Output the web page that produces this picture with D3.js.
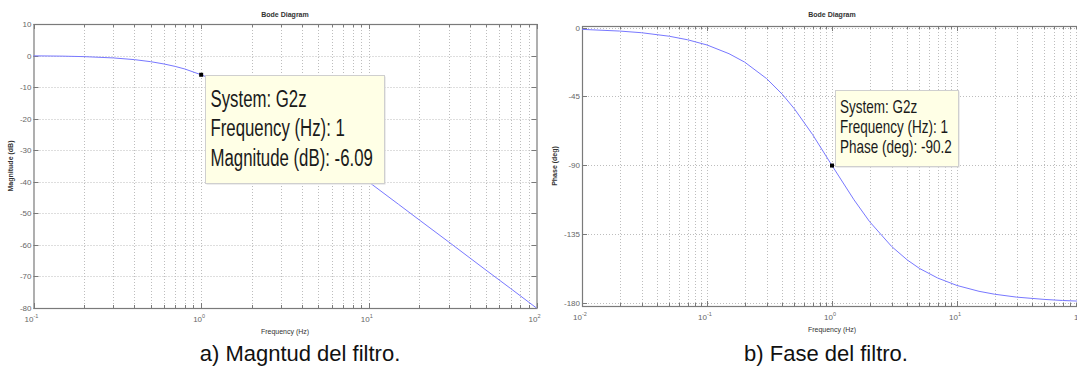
<!DOCTYPE html>
<html>
<head>
<meta charset="utf-8">
<script src="https://cdn.jsdelivr.net/npm/d3@7"></script>
<style>
  html, body { margin: 0; padding: 0; background: #fff; }
  svg { display: block; font-family: "Liberation Sans", Arial, sans-serif; }
</style>
</head>
<body>
<svg id="chart" width="1077" height="368"></svg>
<script>
// Magnitude response (dB) of G2z against frequency (Hz)
const magFreq = [0.1, 0.15, 0.2, 0.3, 0.4, 0.5, 0.6, 0.7, 0.8, 1, 1.2, 1.5, 2, 2.5, 3, 4, 5, 7, 10, 15, 20, 30, 50, 70, 100];
const magDb   = [-0.09, -0.19, -0.34, -0.75, -1.29, -1.94, -2.67, -3.44, -4.27, -6.09, -7.8, -10.3, -14.0, -17.2, -20.0, -24.6, -28.3, -34.0, -40.1, -47.1, -52.1, -59.1, -68.0, -73.8, -80.0];

// Phase response (deg) of G2z against frequency (Hz)
const phaseFreq = [0.01, 0.02, 0.03, 0.05, 0.07, 0.1, 0.15, 0.2, 0.3, 0.4, 0.5, 0.7, 1, 1.5, 2, 3, 4, 5, 7, 10, 15, 20, 30, 50, 70, 100];
const phaseDeg  = [-1.2, -2.3, -3.4, -5.7, -8.0, -11.4, -17.1, -22.6, -33.4, -43.6, -53.1, -70.0, -90.2, -112.6, -126.9, -143.1, -151.9, -157.4, -163.7, -168.6, -172.4, -174.3, -176.2, -177.7, -178.4, -178.9];

// Axis ticks
const magTicks   = [10, 0, -10, -20, -30, -40, -50, -60, -70, -80];
const phaseTicks = [0, -45, -90, -135, -180];
const magDecades   = [-1, 0, 1, 2];
const phaseDecades = [-2, -1, 0, 1, 2];

// Data tips
const magTip   = { f: 1, v: -6.09, lines: ["System: G2z", "Frequency (Hz): 1", "Magnitude (dB): -6.09"] };
const phaseTip = { f: 1, v: -90.2, lines: ["System: G2z", "Frequency (Hz): 1", "Phase (deg): -90.2"] };

const captions = ["a) Magntud del filtro.", "b) Fase del filtro."];

const svg = d3.select("#chart");
svg.append("rect").attr("width", 1077).attr("height", 368).attr("fill", "#fff");

function panel(cfg) {
  const g = svg.append("g");
  const x = d3.scaleLog().domain(cfg.xDomain).range([cfg.left, cfg.right]);
  const y = d3.scaleLinear().domain(cfg.yDomain).range([cfg.bottom, cfg.top]);

  // major and minor frequency positions within the axis range
  const lo = Math.floor(Math.log10(cfg.xDomain[0])), hi = Math.ceil(Math.log10(cfg.xDomain[1]));
  const freqs = [];
  for (let e = lo; e < hi; e++) for (let m = 1; m <= 9; m++) freqs.push({ f: m * Math.pow(10, e), major: m === 1 });
  freqs.push({ f: Math.pow(10, hi), major: true });
  const inside = freqs.filter(d => d.f >= cfg.xDomain[0] * 0.999 && d.f <= cfg.xDomain[1] * 1.001);

  // dotted grid
  g.append("g").selectAll("line").data(inside.filter(d => x(d.f) > cfg.left + 1 && x(d.f) < cfg.right - 1)).join("line")
    .attr("x1", d => Math.round(x(d.f)) + 0.5).attr("x2", d => Math.round(x(d.f)) + 0.5)
    .attr("y1", cfg.top).attr("y2", cfg.bottom)
    .attr("stroke", "#bdbdbd").attr("stroke-width", 1).attr("stroke-dasharray", "1,2");
  g.append("g").selectAll("line").data(cfg.yTicks.filter(v => y(v) > cfg.top + 1 && y(v) < cfg.bottom - 1)).join("line")
    .attr("x1", cfg.left).attr("x2", cfg.right)
    .attr("y1", d => Math.round(y(d)) + 0.5).attr("y2", d => Math.round(y(d)) + 0.5)
    .attr("stroke", "#bdbdbd").attr("stroke-width", 1).attr("stroke-dasharray", "1,2");

  // inward tick marks on all four sides
  const tk = g.append("g").attr("stroke", "#7a7a7a").attr("stroke-width", 1);
  inside.forEach(d => {
    const px = Math.round(x(d.f)) + 0.5, len = d.major ? 5 : 3;
    tk.append("line").attr("x1", px).attr("x2", px).attr("y1", cfg.bottom).attr("y2", cfg.bottom - len);
    tk.append("line").attr("x1", px).attr("x2", px).attr("y1", cfg.top).attr("y2", cfg.top + len);
  });
  cfg.yTicks.forEach(v => {
    const py = Math.round(y(v)) + 0.5;
    tk.append("line").attr("x1", cfg.left).attr("x2", cfg.left + 5).attr("y1", py).attr("y2", py);
    tk.append("line").attr("x1", cfg.right).attr("x2", cfg.right - 5).attr("y1", py).attr("y2", py);
  });

  // axes box
  g.append("rect").attr("x", cfg.left + 0.5).attr("y", cfg.top + 0.5)
    .attr("width", cfg.right - cfg.left).attr("height", cfg.bottom - cfg.top)
    .attr("fill", "none").attr("stroke", "#7a7a7a").attr("stroke-width", 1.2);

  // y tick labels
  g.append("g").selectAll("text").data(cfg.yTicks).join("text")
    .attr("x", cfg.left - 2).attr("y", d => y(d) + 3)
    .attr("text-anchor", "end").attr("font-size", 8).attr("fill", "#666")
    .text(d => d);

  // x tick labels (10^n)
  const xl = g.append("g").selectAll("text").data(cfg.decades).join("text")
    .attr("x", d => x(Math.pow(10, d)) - 2).attr("y", cfg.bottom + 14)
    .attr("text-anchor", "middle").attr("font-size", 8).attr("fill", "#666");
  xl.append("tspan").text("10");
  xl.append("tspan").attr("dy", -4).attr("font-size", 5.5).text(d => d);

  // response curve
  const line = d3.line().x((d, i) => x(cfg.xs[i])).y(d => y(d));
  g.append("path").datum(cfg.ys).attr("d", line)
    .attr("fill", "none").attr("stroke", "#7878ff").attr("stroke-width", 1);

  // title and axis labels
  g.append("text").attr("x", (cfg.left + cfg.right) / 2).attr("y", 17)
    .attr("text-anchor", "middle").attr("font-size", 7).attr("font-weight", "bold").attr("fill", "#333")
    .text("Bode Diagram");
  g.append("text").attr("x", (cfg.left + cfg.right) / 2).attr("y", cfg.bottom + 26)
    .attr("text-anchor", "middle").attr("font-size", 7).attr("fill", "#333")
    .text("Frequency (Hz)");
  g.append("text").attr("transform", `translate(${cfg.yLabelX},${(cfg.top + cfg.bottom) / 2}) rotate(-90)`)
    .attr("text-anchor", "middle").attr("font-size", 7).attr("font-weight", "bold").attr("fill", "#333")
    .text(cfg.yLabel);

  // data tip
  const t = cfg.tip, px = x(t.f), py = y(t.v);
  const b = cfg.box;
  g.append("rect").attr("x", b.x + 1.5).attr("y", b.y + 1.5).attr("width", b.w).attr("height", b.h)
    .attr("fill", "#dcdcdc");
  g.append("rect").attr("x", b.x + 0.5).attr("y", b.y + 0.5).attr("width", b.w).attr("height", b.h)
    .attr("fill", "#ffffe6").attr("stroke", "#cfcfcf");
  const tg = g.append("g").attr("transform", `translate(${b.x + b.pad},0) scale(${b.sx},1)`);
  t.lines.forEach((s, i) => {
    tg.append("text").attr("x", 0).attr("y", b.y + b.first + i * b.step)
      .attr("font-size", b.fs).attr("fill", "#1a1a1a").text(s);
  });
  g.append("rect").attr("x", px - 2).attr("y", py - 2).attr("width", 4).attr("height", 4).attr("fill", "#000");

  // caption
  svg.append("text").attr("x", cfg.capX).attr("y", 361).attr("text-anchor", "middle")
    .attr("font-size", 22).attr("fill", "#111").text(cfg.caption);
}

panel({
  xDomain: [0.1, 100], yDomain: [-80, 10], left: 33.5, right: 536.5, top: 24, bottom: 308,
  xs: magFreq, ys: magDb, yTicks: magTicks, decades: magDecades,
  yLabel: "Magnitude (dB)", yLabelX: 13,
  tip: magTip,
  box: { x: 205, y: 75, w: 179, h: 108, pad: 5.5, first: 32, step: 29.3, fs: 23, sx: 0.73 },
  caption: captions[0], capX: 300
});

panel({
  xDomain: [0.01, 100], yDomain: [-182, 1], left: 582, right: 1082, top: 26, bottom: 306,
  xs: phaseFreq, ys: phaseDeg, yTicks: phaseTicks, decades: phaseDecades,
  yLabel: "Phase (deg)", yLabelX: 557,
  tip: phaseTip,
  box: { x: 835, y: 90, w: 123, h: 76, pad: 5, first: 23, step: 20, fs: 18, sx: 0.75 },
  caption: captions[1], capX: 826
});
</script>
</body>
</html>
